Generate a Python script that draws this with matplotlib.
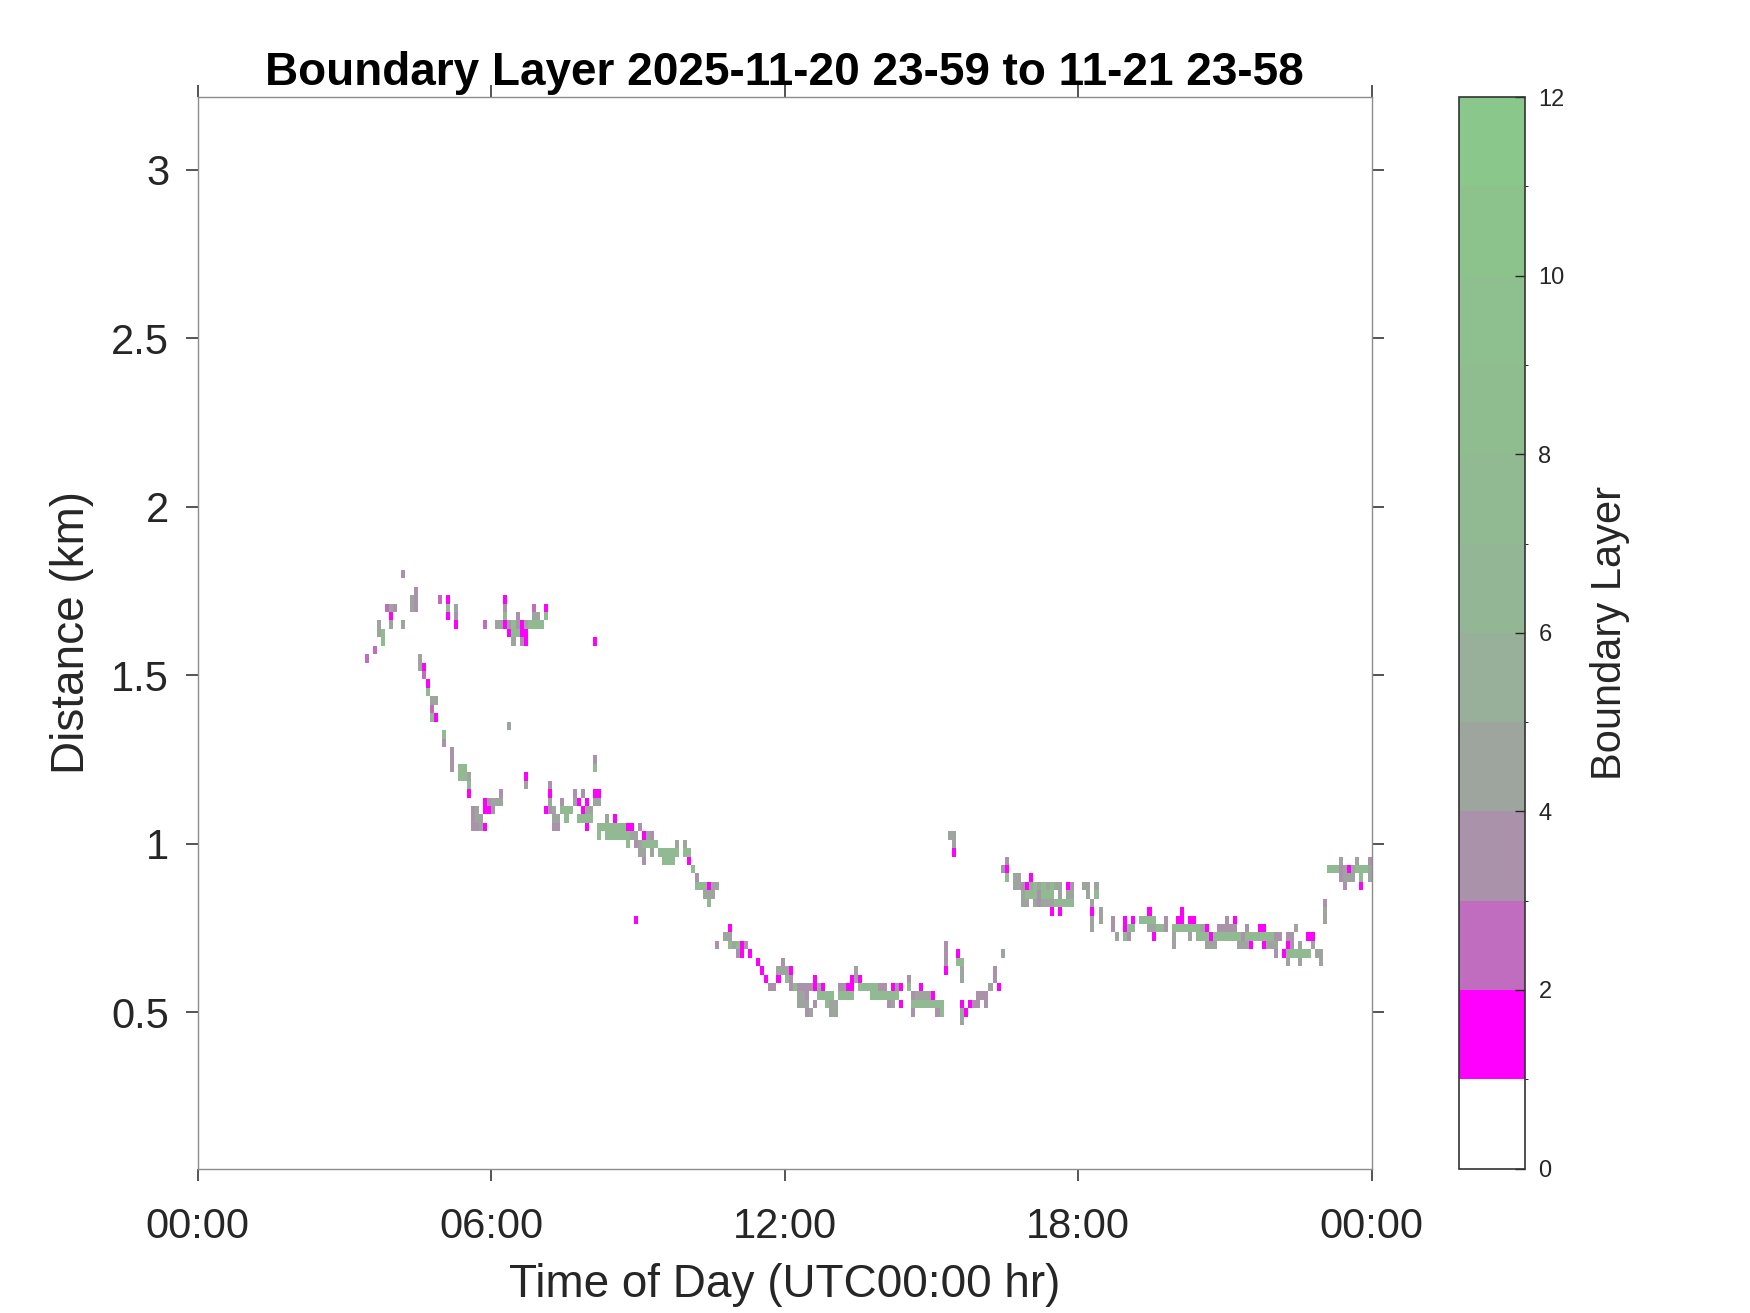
import numpy as np
import matplotlib
matplotlib.use("Agg")
import matplotlib.pyplot as plt
from matplotlib.colors import ListedColormap, BoundaryNorm

plt.rcParams['font.family'] = ['Liberation Sans', 'DejaVu Sans']

# ---------------- text ----------------
TITLE = "Boundary Layer 2025-11-20 23-59 to 11-21 23-58"
X_LABEL = "Time of Day (UTC00:00 hr)"
Y_LABEL = "Distance (km)"
CBAR_LABEL = "Boundary Layer"

x_tick_hours = [0, 6, 12, 18, 24]
x_tick_labels = ["00:00", "06:00", "12:00", "18:00", "00:00"]
y_ticks_km = [0.5, 1, 1.5, 2, 2.5, 3]
y_tick_labels = ["0.5", "1", "1.5", "2", "2.5", "3"]
cbar_ticks = [0, 2, 4, 6, 8, 10, 12]

# ---------------- colour levels (one per unit, 0..12) ----------------
level_bounds = list(range(13))
level_colors = ["#ffffff", "#ff00ff", "#c06cbf", "#aa92aa", "#9ea49e", "#98b099",
                "#93b794", "#91ba92", "#8fbd90", "#8dc08e", "#8cc38c", "#8ac78a"]

# value of each detection code
code_values = {"m": 1.5, "o": 2.5, "u": 3.5, "g": 4.5, "s": 5.5, "G": 7.5}

# ---------------- grid ----------------
slot_minutes = 5          # time resolution
n_slots = 288             # one day
gate_km = 0.025           # range resolution
y_limits = (0.037, 3.215)

# detections: (height km, first 5-min slot of day, codes per slot; '.' = none)
detections = [
    (1.800, 50, "u"),
    (1.750, 53, "u"),
    (1.725, 52, "gu"), (1.725, 59, "o.m"), (1.725, 75, "m"),
    (1.700, 46, "ogu"), (1.700, 52, "gu"), (1.700, 61, "G.g"), (1.700, 75, "u"), (1.700, 82, "o..m"),
    (1.675, 47, "m"), (1.675, 61, "m.u"), (1.675, 75, "G..u"), (1.675, 82, "gg.G"),
    (1.650, 44, "g..g..g"), (1.650, 63, "m"), (1.650, 70, "o..ggmuGumgGGGG"),
    (1.625, 44, "gG"), (1.625, 76, "mGGmm"),
    (1.600, 45, "G"), (1.600, 77, "g.um"), (1.600, 97, "m"),
    (1.575, 43, "o"),
    (1.550, 41, "o"), (1.550, 54, "g"),
    (1.525, 54, "gm"),
    (1.500, 55, "o"),
    (1.475, 56, "m"),
    (1.450, 56, "G"),
    (1.425, 57, "gg"),
    (1.400, 57, "o"),
    (1.375, 57, "Gm"),
    (1.350, 76, "g"),
    (1.325, 60, "G"),
    (1.300, 60, "u"),
    (1.275, 62, "u"),
    (1.250, 62, "u"), (1.250, 97, "u"),
    (1.225, 62, "u.GG"), (1.225, 97, "G"),
    (1.200, 64, "GGg"), (1.200, 80, "m"),
    (1.175, 66, "G"), (1.175, 80, "g"), (1.175, 86, "u"),
    (1.150, 66, "m"), (1.150, 74, "u"), (1.150, 86, "m"), (1.150, 92, "u.u"), (1.150, 97, "mm"),
    (1.125, 70, "muggg"), (1.125, 86, "g..u..gm.m.gg"),
    (1.100, 67, "ug.mmu"), (1.100, 85, "mug.GGG..mgg"),
    (1.075, 67, "ugg"), (1.075, 87, "gg.G..GGGG...g.m"),
    (1.050, 67, "uugm"), (1.050, 87, "uu......m..GGGGGGGmm.u"),
    (1.025, 98, "G.GGGGGGgg.mgu"), (1.025, 184, "gg"),
    (1.000, 105, "G.ugGGGG....g.g"), (1.000, 185, "g"),
    (0.975, 108, "gg.g.GGGGG.GG"), (0.975, 185, "m"),
    (0.950, 109, "u....GGG...m"), (0.950, 198, "u"), (0.950, 280, "g...g..u"),
    (0.925, 121, "G"), (0.925, 197, "um"), (0.925, 277, "GGGugmgGGGg"),
    (0.900, 122, "u"), (0.900, 198, "G.gg..m"), (0.900, 280, "uggg.G.g"),
    (0.875, 122, "GGGmgg"), (0.875, 200, "ggumgGgGgGgg.mu..gg.g"), (0.875, 281, "u...m"),
    (0.850, 124, "ggg"), (0.850, 202, "gGGGuGGG.g.gg...g.G"),
    (0.825, 125, "G"), (0.825, 202, "gg.gugggGGGGG....g"), (0.825, 276, "u"),
    (0.800, 209, "m.m"), (0.800, 219, "m.g"), (0.800, 233, "m"), (0.800, 241, "m"), (0.800, 276, "g"),
    (0.775, 107, "m"), (0.775, 219, "g.g"), (0.775, 224, "u..m.m.GGGG..u..mm.mm.......u.m"), (0.775, 276, "g"),
    (0.750, 130, "m"), (0.750, 219, "g"), (0.750, 224, "u..mGG...ggGGu.GGGGGGGgm..uuuuu..u..mm.......g"),
    (0.725, 129, "gg"), (0.725, 225, "g.Gu.....m....g...g.GGGmGGGGGGGuGGGGGGGuu.uu...mm"),
    (0.700, 127, "u..GgGmu"), (0.700, 183, "u"), (0.700, 239, "g.......ggg.....gggm..mggg..mu.g..g"),
    (0.675, 132, "um.m"), (0.675, 183, "u..m"), (0.675, 197, "g"), (0.675, 264, "u.mGGGGGG.gg"),
    (0.650, 137, "m.....u"), (0.650, 183, "u..GG"), (0.650, 267, "g..g....g"),
    (0.625, 138, "m...gggm"), (0.625, 161, "g"), (0.625, 183, "m"), (0.625, 187, "g"), (0.625, 195, "u"),
    (0.600, 139, "m..m.Gu"), (0.600, 151, "m"), (0.600, 160, "mgm"), (0.600, 174, "u"), (0.600, 187, "g"), (0.600, 195, "u"),
    (0.575, 140, "uu...uGuuuumgm...uumm.GGGGGuu.mum.G..m"), (0.575, 194, "g.m"),
    (0.550, 147, "ggu..GGGG.GGGG....GGGGGGG...uggggm"), (0.550, 191, "uuu"),
    (0.525, 147, "ggg.u..Ggg"), (0.525, 169, "ug.m..GGGGGGGG"), (0.525, 187, "m.muu.u"),
    (0.500, 149, "ug....gg"), (0.500, 175, "u.....uG"), (0.500, 187, "gm"),
    (0.475, 187, "g"),
]

# ---------------- build field ----------------
heights_km = np.round(np.arange(1, 129) * gate_km, 4)
height_edges = np.concatenate([heights_km - gate_km / 2, [heights_km[-1] + gate_km / 2]])
time_edges_h = np.arange(n_slots + 1) * slot_minutes / 60.0

field = np.full((heights_km.size, n_slots), np.nan)
for km, slot0, codes in detections:
    row = int(np.argmin(np.abs(heights_km - km)))
    for k, ch in enumerate(codes):
        if ch in code_values:
            field[row, slot0 + k] = code_values[ch]
field = np.ma.masked_invalid(field)

cmap = ListedColormap(level_colors)
norm = BoundaryNorm(level_bounds, cmap.N)

# ---------------- figure ----------------
fig = plt.figure(figsize=(17.5, 13.13), dpi=100)
ax = fig.add_axes([0.1129, 0.1100, 0.6709, 0.8161])
cax = fig.add_axes([0.8335, 0.1100, 0.0377, 0.8161])

mesh = ax.pcolormesh(time_edges_h, height_edges, field, cmap=cmap, norm=norm,
                     shading="flat", edgecolors="none", antialiased=False)

ax.set_xlim(0, 24)
ax.set_ylim(*y_limits)
ax.set_xticks(x_tick_hours)
ax.set_xticklabels(x_tick_labels)
ax.set_yticks(y_ticks_km)
ax.set_yticklabels(y_tick_labels)

for sp in ax.spines.values():
    sp.set_color("#8c8c8c")
    sp.set_linewidth(1.0)

ax.tick_params(axis="both", which="major", direction="out", length=8.5, width=1.1,
               color="#262626", labelcolor="#262626", labelsize=30)
ax.tick_params(axis="x", top=True, bottom=True, pad=19)
ax.tick_params(axis="y", left=True, right=True, pad=12)

ax.set_xlabel(X_LABEL, fontsize=33, color="#262626", labelpad=12)
ax.set_ylabel(Y_LABEL, fontsize=33, color="#262626", labelpad=12)
ax.set_title(TITLE, fontsize=33, fontweight="bold", color="black", pad=9)

cb = fig.colorbar(mesh, cax=cax, ticks=cbar_ticks)
cb.outline.set_edgecolor("#333333")
cb.outline.set_linewidth(1.2)
cax.tick_params(direction="in", length=7, width=1.0, color="#262626",
                labelsize=17, labelcolor="#262626", pad=10)
cb.set_label(CBAR_LABEL, fontsize=30, color="#262626", labelpad=18)

fig.savefig("out.png", dpi=100, facecolor="white")
